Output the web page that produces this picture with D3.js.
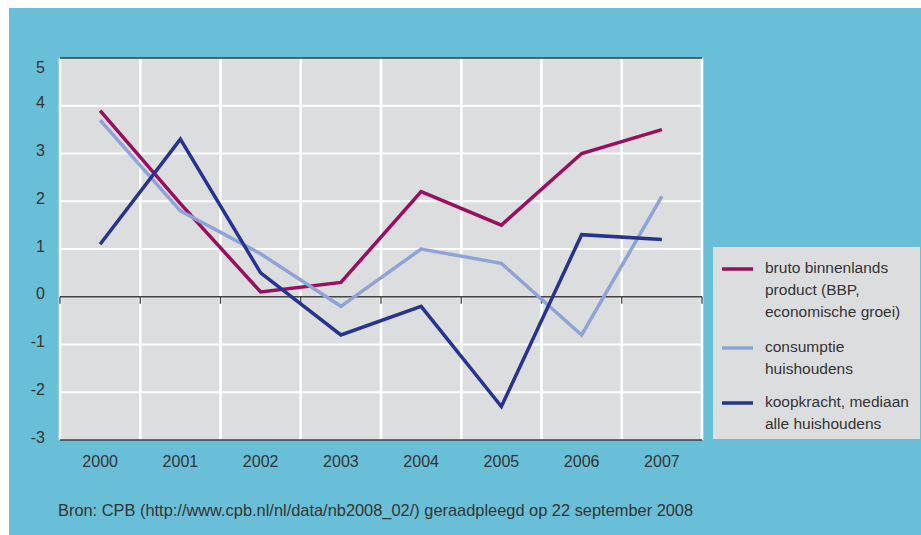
<!DOCTYPE html>
<html>
<head>
<meta charset="utf-8">
<script src="https://cdn.jsdelivr.net/npm/d3@7"></script>
<style>
    body { margin: 0; background: #fff; }
    text {
      font-family: "Liberation Sans", Arial, sans-serif;
      fill: #333;
    }
</style>
</head>
<body>
<script>

    // data
    var years = ["2000", "2001", "2002", "2003", "2004", "2005", "2006", "2007"];
    var bbp = [3.9, 1.95, 0.1, 0.3, 2.2, 1.5, 3.0, 3.5];
    var consumptie = [3.7, 1.8, 0.9, -0.2, 1.0, 0.7, -0.8, 2.1];
    var koopkracht = [1.1, 3.3, 0.5, -0.8, -0.2, -2.3, 1.3, 1.2];
    var yTicks = [5, 4, 3, 2, 1, 0, -1, -2, -3];

    var seriesNames = [
      ["bruto binnenlands", "product (BBP,", "economische groei)"],
      ["consumptie", "huishoudens"],
      ["koopkracht, mediaan", "alle huishoudens"]
    ];
    var seriesColors = ["#990f5e", "#8fa4d6", "#27348f"];
    var series = [bbp, consumptie, koopkracht];

    var source = "Bron: CPB (http://www.cpb.nl/nl/data/nb2008_02/) geraadpleegd op 22 september 2008";

    var width = 921, height = 535;
    var plot = {left: 60, right: 702, top: 58, bottom: 440};

    var svg = d3.select("body").append("svg")
        .attr("width", width)
        .attr("height", height);

    // blue panel
    svg.append("rect")
        .attr("x", 9).attr("y", 8)
        .attr("width", width - 9).attr("height", height - 8)
        .attr("fill", "#68bfd7");

    var x = d3.scaleBand().domain(years).range([plot.left, plot.right]);
    var y = d3.scaleLinear().domain([-3, 5]).range([plot.bottom, plot.top]);

    svg.append("rect")
        .attr("x", plot.left).attr("y", plot.top)
        .attr("width", plot.right - plot.left).attr("height", plot.bottom - plot.top)
        .attr("fill", "#dcdddf");

    // grid
    var grid = svg.append("g").attr("stroke", "#fff").attr("stroke-width", 2.2);
    grid.selectAll("line.h")
      .data(yTicks.filter(d => d != 0 && d != 5 && d != -3))
      .enter().append("line")
      .attr("x1", plot.left).attr("x2", plot.right)
      .attr("y1", d => y(d)).attr("y2", d => y(d));
    var edges = years.map(d => x(d)).concat([plot.right]);
    grid.selectAll("line.v")
      .data(edges)
      .enter().append("line")
      .attr("x1", d => d).attr("x2", d => d)
      .attr("y1", plot.top).attr("y2", plot.bottom)
      .attr("stroke-width", 2.6);

    // top, bottom and zero lines
    svg.append("line")
        .attr("x1", plot.left).attr("x2", plot.right)
        .attr("y1", plot.top).attr("y2", plot.top)
        .attr("stroke", "#3a3f44").attr("stroke-width", 1.5);
    svg.append("line")
        .attr("x1", plot.left).attr("x2", plot.right)
        .attr("y1", plot.bottom).attr("y2", plot.bottom)
        .attr("stroke", "#3a3f44").attr("stroke-width", 1.5);
    svg.append("line")
        .attr("x1", plot.left).attr("x2", plot.right)
        .attr("y1", y(0)).attr("y2", y(0))
        .attr("stroke", "#444").attr("stroke-width", 1.5);
    svg.append("g").selectAll("line")
      .data(edges)
      .enter().append("line")
      .attr("x1", d => d).attr("x2", d => d)
      .attr("y1", y(0)).attr("y2", y(0) + 7)
      .attr("stroke", "#444").attr("stroke-width", 1.3);

    // y labels
    svg.append("g").selectAll("text")
      .data(yTicks)
      .enter().append("text")
      .attr("x", 45)
      .attr("y", d => Math.max(y(d) - 3, plot.top + 9))
      .attr("dy", "0.35em")
      .attr("text-anchor", "end")
      .style("font-size", "16px")
      .text(d => d);

    // x labels
    svg.append("g").selectAll("text")
      .data(years)
      .enter().append("text")
      .attr("x", d => x(d) + x.bandwidth() / 2)
      .attr("y", 461)
      .attr("dy", "0.35em")
      .attr("text-anchor", "middle")
      .style("font-size", "16px")
      .text(d => d);

    // lines
    var line = d3.line()
      .x((d, i) => x(years[i]) + x.bandwidth() / 2)
      .y(d => y(d));

    svg.append("g").selectAll("path")
      .data(series)
      .enter().append("path")
      .attr("d", line)
      .attr("fill", "none")
      .attr("stroke", (d, i) => seriesColors[i])
      .attr("stroke-width", 3.5)
      .attr("stroke-linejoin", "miter");

    // legend
    var legend = svg.append("g");
    legend.append("rect")
        .attr("x", 713).attr("y", 247)
        .attr("width", 207).attr("height", 192)
        .attr("fill", "#dcdddf");

    var itemTop = [268, 347, 402];
    seriesNames.forEach(function(lines, i) {
      legend.append("line")
        .attr("x1", 722).attr("x2", 753)
        .attr("y1", itemTop[i] + 1).attr("y2", itemTop[i] + 1)
        .attr("stroke", seriesColors[i])
        .attr("stroke-width", 3.5);
      var t = legend.append("text")
        .attr("x", 765)
        .attr("y", itemTop[i])
        .attr("dy", "0.35em")
        .style("font-size", "15.5px");
      lines.forEach(function(s, j) {
        t.append("tspan")
          .attr("x", 765)
          .attr("dy", j == 0 ? "0.35em" : "21.7px")
          .text(s);
      });
    });

    svg.append("text")
        .attr("x", 58)
        .attr("y", 510)
        .attr("dy", "0.35em")
        .style("font-size", "16.4px")
        .text(source);

</script>
</body>
</html>
